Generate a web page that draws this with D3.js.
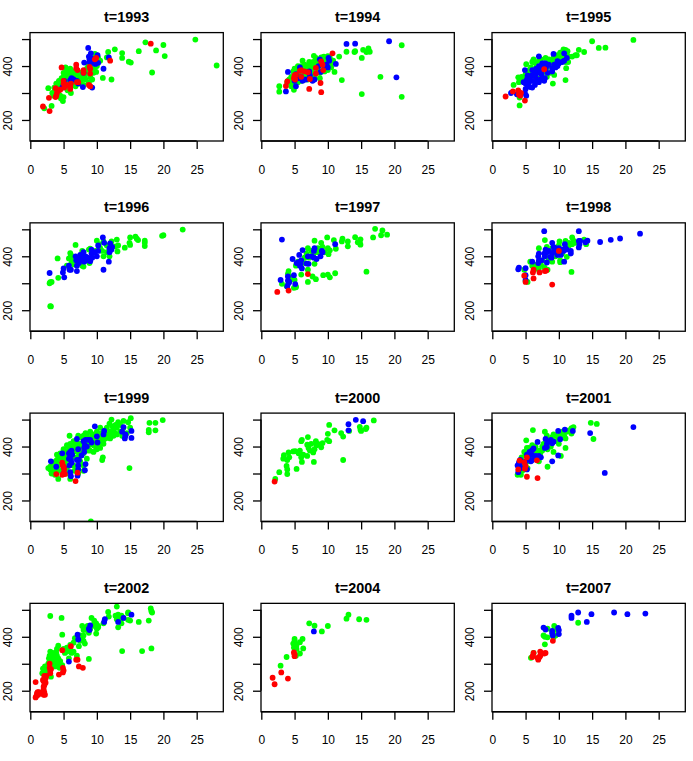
<!DOCTYPE html>
<html><head><meta charset="utf-8">
<style>html,body{margin:0;padding:0;background:#fff}svg{display:block}text{font-family:"Liberation Sans",Arial,sans-serif;fill:#000}</style>
<script src="https://cdn.jsdelivr.net/npm/d3@7"></script></head><body><div id="chart"></div>
<script>
const years=["1993","1994","1995","1996","1997","1998","1999","2000","2001","2002","2004","2007"];
const xTicks=[0,5,10,15,20,25];
const yTicks=[200,300,400,500];
const yLabels=[200,400];
const seriesColors={green:"#00ff00",blue:"#0000ff",red:"#ff0000"};

const green1993=[[4.5,335],[4.7,355],[5.2,355],[5.7,340],[5.7,375],[6.3,350],[6.6,375],[7.3,362],[7.7,350],[8.3,350],[8.5,375],[9.2,395],[9.7,395],[8.7,405],[3.3,300],[3.6,320],[4.3,345],[5.5,320],[6.8,325],[4.5,290],[24.8,498],[28,402],[17.3,488],[20,478],[18.9,458],[20.2,437],[18.3,376],[16.3,455],[15.1,413],[14.8,416],[13.8,448],[13.8,430],[12.7,462],[11.7,452],[12.2,350],[10.9,356],[11.5,432],[10.5,420],[9.7,445],[2.7,318],[3.2,252],[2.1,243],[3.5,290],[4,330],[4.4,325],[4.9,270],[5,285],[4.6,280],[5.3,395],[5,375],[5.5,385],[5,360],[5.5,350],[6,380],[6.2,370],[6,390],[6.5,360],[7,370],[7,345],[7.5,375],[7.5,335],[8,380],[8,330],[6.5,340],[6,325],[6.3,330],[8.5,390],[9,380],[9.5,375],[10,400],[9.9,378],[9.3,350],[8.8,340],[9,360],[8.2,365],[5.2,340],[5.5,330],[4.8,320],[4.2,300],[3.7,310],[3.9,335],[5.6,310],[6.1,300],[5.8,365],[7.2,355],[4.8,345],[5.3,370],[6.8,382],[7.8,360],[9.6,415],[10.2,430],[9.8,442]];
const blue1993=[[8.7,467],[9.1,447],[10.1,440],[8.8,435],[9.2,428],[8.1,413],[9.3,415],[9.8,408],[10.2,412],[8.9,425],[11,390],[11.8,432],[8,375],[6.2,355],[6,348],[7,345],[5,330],[7.2,335],[7.9,322],[9.3,320],[4.8,320],[5.1,345],[6.5,350],[8.9,415],[9.6,410]];
const red1993=[[1.9,250],[2.9,233],[2.8,282],[3.8,318],[3.8,285],[4,300],[4.2,310],[3.9,290],[4.5,312],[4.7,395],[5,345],[5.1,320],[5,335],[6,322],[6.1,335],[6,315],[7,340],[7.2,340],[6.9,405],[6.9,392],[7.1,385],[8,385],[8,375],[8.9,397],[9,390],[9,372],[8.8,330],[9,325],[9.9,430],[9.7,425],[12,420],[18.1,483],[5.5,330]];

const green1994=[[5.2,385],[6.2,385],[6.5,405],[6.7,370],[7.3,395],[7.8,375],[8.3,410],[8.7,420],[9.2,420],[9.7,420],[5.5,340],[6.3,360],[4.2,350],[7.2,415],[8.8,375],[10.4,410],[4.7,340],[2.7,325],[2.7,305],[4,345],[4.5,325],[4.9,312],[5,390],[5.5,380],[6.2,420],[6,400],[6.8,395],[7.2,405],[7.9,438],[7.8,415],[8.2,420],[9,432],[9.4,435],[10,437],[10.3,430],[10.8,420],[11.7,435],[11,378],[12.1,348],[12.8,453],[14.1,455],[14,452],[15.3,460],[15.8,452],[16.1,465],[16.3,453],[15.1,430],[17.9,360],[15.1,296],[21.1,477],[21.1,286],[5.5,360],[6,370],[6.5,350],[7,375],[7.5,385],[8,400],[8.5,390],[9,405],[9.5,395],[10,410],[5,350],[4.5,360],[6,345],[7,350],[8,360],[8.8,355],[9,380],[9.5,380],[10.5,395],[10,385],[8.2,430],[7,385],[5.5,400],[4.8,380],[7.5,360],[3.9,340]];
const blue1994=[[19.2,492],[14.1,483],[12.8,482],[20.3,358],[3.7,306],[4,378],[5.2,325],[5,345],[5.2,370],[5.8,395],[6.2,345],[6.7,350],[7.2,380],[7.7,345],[8,350],[7.3,365],[8.8,425],[8.6,400],[9.5,400],[10.1,430],[10.2,420],[10,395],[11.2,408],[9.8,405],[6,360],[5.7,355],[8.9,378]];
const red1994=[[10.7,447],[9,417],[9.2,405],[9.3,385],[8.2,393],[8.2,372],[8.9,337],[9,303],[7.2,315],[7.3,352],[7,377],[6.5,380],[6,385],[5.8,382],[6,360],[5,365],[5.1,350],[4.9,355],[3.9,343],[3.7,326],[5.2,368]];

const green1995=[[6.5,390],[7.3,425],[5.5,385],[8.7,410],[9.2,430],[9.9,425],[10.3,440],[8.2,395],[7.5,375],[8.7,375],[4.8,345],[4.2,345],[10.7,435],[11.2,442],[21.2,497],[15,492],[16,467],[17,468],[13.8,452],[13,460],[12.7,440],[12,435],[11.5,435],[11,460],[11.3,455],[10.7,462],[10.2,450],[9.8,440],[10,430],[11.1,392],[11,348],[9.1,335],[9.3,367],[4.1,254],[4.1,283],[3.2,330],[3.9,358],[4,340],[4.4,360],[5.1,407],[5,370],[6.2,425],[6,415],[6.5,410],[7,395],[8,430],[8.5,425],[9,415],[9.5,405],[8.2,360],[7.5,350],[6.8,355],[6.3,345],[5.5,370],[5,350],[11,415],[10.5,425],[11.4,415],[12.5,440],[4.5,355],[7,420],[7.5,410],[5.8,395],[10,410]];
const blue1995=[[5.3,330],[5.6,355],[5.5,340],[6.3,375],[6.7,345],[6.4,330],[7.4,370],[7.6,395],[8.2,400],[4.7,340],[5.3,365],[9,380],[9.8,400],[10.5,415],[6.6,390],[7,436],[9.2,445],[10.8,447],[11.2,430],[10.8,420],[10,410],[9.8,418],[9.5,395],[9,390],[8.5,405],[8,410],[7.5,410],[7,400],[7.2,385],[8,390],[8.3,375],[7.9,355],[7.8,345],[7.2,350],[7,340],[6.8,375],[6,385],[5.9,365],[6,345],[6,320],[5.7,322],[5,335],[5.2,350],[4.9,385],[5,315],[5.1,290],[4.9,300],[3.7,295],[4,300],[2.8,300],[6.5,360],[7.8,410],[9.3,405]];
const red1995=[[2,287],[3.1,306],[3.9,310],[4,295],[4.2,290],[4.3,300],[4.9,272],[7.8,388]];

const green1996=[[22.9,499],[20,478],[19.8,476],[17.2,458],[17.2,450],[17.2,438],[16.2,460],[16,465],[15.8,473],[15,470],[14.9,450],[15,442],[14.2,432],[13,462],[13.2,440],[12.8,437],[13.1,418],[12.2,455],[11,455],[10,458],[11,400],[11.9,400],[11.5,415],[10.8,420],[10.5,430],[3,304],[3.2,305],[2.9,300],[3,215],[3.1,214],[4.1,392],[4.2,320],[6.8,442],[6,412],[6.1,405],[5.8,392],[6.2,378],[7,385],[7.8,420],[7.8,365],[8,362],[8.8,425],[9,428],[9.3,410],[8.9,375],[9.8,420],[8.5,395],[10.3,445],[11.5,440],[5.5,365],[6.5,370],[7.5,395],[6.5,395]];
const blue1996=[[7.6,385],[8.3,400],[8.6,395],[9.7,415],[11.9,430],[10.9,470],[11.1,450],[12,448],[12.3,435],[12.2,425],[11.9,415],[11.8,380],[11,350],[2.9,338],[5,355],[4.9,340],[5.1,322],[5.9,350],[5.8,365],[6.1,350],[7,345],[7,365],[6.9,385],[6.8,400],[7.5,405],[7.2,390],[8,415],[7.9,400],[8.1,380],[8.5,385],[9,382],[9.2,425],[9.2,410],[9.3,395],[10,400],[10.2,420],[10.2,440],[7.3,375],[8.9,392]];
const red1996=[];

const green1997=[[17.1,502],[18.2,496],[18.9,480],[18,478],[16.8,470],[14.1,471],[14.9,463],[14.8,452],[14.9,443],[14.5,452],[13,455],[13,437],[12.2,465],[12.1,455],[10.9,460],[9.9,470],[8,458],[11.2,428],[10.3,422],[10,430],[10.1,408],[15.8,343],[11.1,337],[10,332],[10.3,322],[9.3,330],[8.2,315],[7.7,325],[7,305],[6,332],[7,350],[8,372],[9,450],[8.5,430],[9.2,435],[9,420],[8.5,415],[7.5,420],[7,430],[6.8,410],[7.2,395],[6.5,375],[5.2,365],[5.2,288],[5.2,285],[5,312],[4.9,283],[4.1,345],[4,335],[4.2,325],[4.5,315],[3.8,290],[3.1,298],[6.5,395],[7.8,408],[5.5,380],[9.5,415]];
const blue1997=[[3.1,462],[11.1,445],[6.2,423],[4.7,390],[5.7,405],[5.3,375],[5.8,365],[5.9,372],[6,385],[6.1,355],[6.8,373],[7.1,372],[7,400],[7.6,400],[7.9,395],[8,430],[7.9,420],[8.3,390],[8.9,400],[9.1,420],[9.2,415],[2.9,312],[4,325],[4.9,330],[4,310],[4.1,300],[4.2,305],[5.1,297],[3.9,288],[5.6,378]];
const red1997=[[2.4,268],[4.1,273],[7,334]];

const green1998=[[6.3,350],[7.5,385],[9,430],[10,440],[12.5,450],[11,440],[6,365],[7.3,370],[8,400],[7.9,460],[10.1,455],[11,457],[12,470],[12.2,458],[12,445],[11.5,450],[13.8,462],[14.1,445],[8.2,435],[7,430],[11.9,342],[11.2,398],[10.2,385],[10.2,378],[5.7,380],[6.2,370],[7,355],[7.8,360],[8,352],[8.3,350],[6.5,360],[4.8,350],[5,308],[5.3,305],[8.5,390],[9,380],[10.5,410],[11.5,440],[9.5,400]];
const blue1998=[[9.3,420],[10.3,405],[10.7,420],[8,425],[22.2,484],[19.2,466],[17.8,461],[16.2,453],[14.3,458],[14,452],[13.2,457],[13,457],[13.1,445],[13,433],[13,493],[7.8,493],[11.8,420],[11.8,410],[10.8,380],[10.9,445],[11,430],[10,430],[10.2,415],[9.8,405],[9,450],[9.2,435],[9,410],[8.7,398],[8.5,420],[8.2,415],[7.8,410],[7.9,400],[7,410],[6.9,400],[7,385],[6.9,375],[7.4,385],[8.2,377],[6,380],[4,358],[3.9,352],[5,356],[5,330],[5,312],[8.9,395],[10.5,425],[9.5,430],[11.2,425]];
const red1998=[[10,420],[4.8,328],[5,305],[9,295],[6.2,318],[6.1,340],[6.2,350],[7.1,340],[7.9,345],[8.1,347]];

const green1999=[[3,325],[3.4,310],[3.9,300],[4.4,335],[4.3,360],[4.8,375],[5.2,370],[5.5,405],[5.2,335],[5.6,300],[6.3,360],[6.6,310],[6.9,385],[7.3,375],[7.7,390],[7.8,405],[8.3,415],[8.8,405],[8.7,385],[9.3,440],[9.8,430],[10.2,440],[10.7,450],[11.3,430],[11.8,440],[12.3,475],[12.7,450],[13.2,490],[13.8,440],[8.3,450],[7,415],[7.2,440],[6.3,395],[5,360],[4.2,330],[3.8,345],[9.5,405],[10.5,410],[7.3,355],[14.7,490],[19.9,498],[18.8,488],[17.9,488],[18.8,460],[17.8,462],[17.8,453],[15.1,505],[15,470],[14,470],[14,495],[13,470],[12.2,500],[11.9,485],[12.8,480],[12,455],[11.5,470],[13.5,455],[12.5,440],[11.2,460],[11,445],[10.5,470],[11,425],[10,435],[9.5,445],[9,455],[8.5,445],[8,440],[7.5,435],[10,390],[9.5,380],[10.5,395],[10.8,350],[10.9,360],[14.9,320],[9.1,122],[5.9,440],[6,410],[6.5,420],[7,400],[5,390],[5.5,380],[4.5,375],[4,370],[4,350],[3.5,330],[2.7,320],[3,315],[3.2,300],[4,310],[4.2,280],[6,280],[7.2,300],[5.1,300],[3.7,295],[5,340],[5.5,350],[8,375],[8.5,355],[9,385],[8.2,395],[9,410],[9.5,425],[10,415],[10.5,430],[11.5,445],[12.5,460],[13,445],[6.5,380],[7,360],[7.5,345],[7,325],[6.5,330],[8,330],[8,310],[5,320],[4.5,310],[3.5,340],[6,350],[5.5,320],[7.5,410],[8,420],[8.5,430],[9,430],[6.5,400],[5.8,395],[4.7,355],[9.8,400],[12,430],[11,410],[10,455],[13.5,480],[14.5,450]];
const blue1999=[[5.8,355],[6.3,370],[6.2,385],[5.9,330],[8.5,400],[8.3,425],[7.3,350],[9.7,475],[11.1,458],[11,445],[10,438],[10.1,415],[9,425],[9.2,415],[8.7,425],[8,420],[8.2,405],[8.1,395],[8.1,380],[7,428],[7.2,390],[7.7,367],[6,380],[6,365],[6.1,350],[6.2,340],[5.8,375],[7,350],[7.2,330],[7.2,315],[7.1,292],[8.3,335],[8.2,312],[6,305],[6.1,290],[5.1,320],[5,300],[4.8,375],[3.9,325],[3.1,345],[14,472],[13.8,455],[14.3,445],[14.2,430],[15.2,432],[15.2,458],[14.3,440]];
const red1999=[[4.8,340],[4.9,330],[5,325],[5.1,315],[5,300],[4.8,295],[5.2,298],[3.9,298],[6.8,272],[7.1,303]];

const green2000=[[16.9,497],[15.8,470],[15.7,465],[14.8,473],[14.9,462],[15,458],[13.2,458],[12.3,437],[12,450],[11,460],[10.2,480],[10,447],[9.9,425],[10.2,420],[12.3,350],[9.2,413],[9,397],[8.2,420],[8.3,405],[8,390],[7.8,378],[7.5,410],[7.1,395],[7.3,385],[7,435],[6.9,407],[6.9,365],[6.1,425],[6,420],[6.3,370],[6,360],[6.1,343],[5.8,385],[5.6,375],[5.1,383],[4.8,382],[4.1,378],[4.2,360],[3.9,350],[3.3,355],[3.4,368],[3.8,328],[3.9,315],[3.9,298],[5.3,317],[2.7,305],[2.1,280],[7.9,343],[8.5,410]];
const blue2000=[[14.2,499],[15.3,494],[13.1,483],[13.1,460]];
const red2000=[[2,270]];

const green2001=[[4.4,360],[5.5,365],[6.4,375],[7.7,410],[8.5,425],[9.5,440],[10.8,440],[11.5,460],[5.7,375],[4.5,325],[5.3,320],[7.5,385],[14.8,488],[15.7,484],[15.2,428],[12.2,472],[11.9,468],[11.2,455],[11,430],[11.9,448],[11,395],[10.2,445],[10,430],[10,410],[10.3,365],[9.2,445],[9,435],[9.2,380],[8.2,440],[7.9,455],[6.1,461],[5.1,423],[8.3,325],[8.3,390],[8.8,400],[7.5,400],[7,385],[7.2,375],[6.5,400],[6,405],[5.5,395],[5.2,395],[4.8,380],[5,370],[5.5,345],[5,340],[4.5,345],[4.2,320],[4.3,295],[3.8,295],[4.5,310],[6,355],[6.5,380],[7,345],[6.8,362],[10.5,455],[9.5,420]];
const blue2001=[[5.6,380],[5.4,355],[4.1,330],[4.3,320],[6.5,365],[8.5,418],[9,412],[21.2,472],[16.9,302],[14.7,450],[12.1,458],[10.9,463],[9.9,458],[10.2,427],[8,428],[8.2,410],[7.9,395],[8.2,398],[8.8,425],[9.2,418],[6.8,417],[7,365],[7.3,360],[6.2,393],[6,387],[5.9,370],[6,350],[5.2,370],[5,345],[5.2,315],[4.2,350],[4,340],[3.8,330],[3.9,305],[9,345],[9.9,367],[5.8,345]];
const red2001=[[4.1,348],[4.8,342],[5,328],[4.9,318],[5.2,360],[3.9,315],[5.2,288],[6.8,283],[6.7,349]];

const green2002=[[2.7,300],[2.9,310],[3.1,320],[3.3,315],[3.5,330],[3.6,340],[3.8,305],[4,315],[4.2,320],[3.4,290],[3.2,325],[3,295],[2.5,285],[2.2,290],[4.4,285],[3.9,340],[5.2,340],[6,350],[6.7,395],[7.5,385],[7.8,395],[9.3,440],[9.6,460],[8.6,440],[13.4,470],[13,465],[13.5,460],[14.7,490],[18.1,505],[18.2,495],[18.3,490],[17.8,460],[16.3,455],[14.7,487],[15,460],[14.7,463],[13.7,478],[13,512],[12.8,478],[13.2,482],[14,470],[13.2,435],[13.7,450],[11.7,492],[11.8,475],[11,450],[9.2,470],[9.9,450],[10.2,440],[10.2,435],[9.9,412],[9,430],[8.5,425],[7.8,440],[8.2,430],[8.8,415],[8,405],[7.5,405],[8,385],[8.2,375],[7.3,365],[7,395],[6.5,378],[6,370],[5.5,360],[5,355],[4.2,367],[4,355],[4.8,408],[4.7,470],[3,477],[18.2,357],[16.8,347],[13.8,347],[8.8,318],[7,330],[6.2,340],[5.8,320],[5.5,345],[4.8,295],[4.5,310],[4,330],[3.7,320],[3.2,340],[3,345],[2.8,320],[3,305],[3.3,300],[3.1,252],[2.7,285],[1.9,282],[2.2,275],[1.8,265],[2.5,270],[3.5,310],[3.8,290],[2.9,330],[4.2,300],[9.5,445],[8,425],[10,430],[6.5,345]];
const blue2002=[[15.2,482],[14,470],[13.2,455],[11.2,465],[11.1,455],[9,442],[8.9,425],[8.8,430],[7.1,408],[7.2,390],[5.8,308]];
const red2002=[[1.3,195],[2.3,245],[2.4,255],[3.1,280],[2,215],[0.8,232],[1,190],[0.9,180],[1.1,195],[1.2,185],[0.8,175],[1.9,190],[2,185],[2.1,195],[2.2,185],[2,205],[2.1,220],[2,235],[1.9,240],[2.2,250],[2.1,255],[2.9,300],[2.9,285],[3,275],[3,265],[4.3,260],[4.9,285],[4.9,268],[5,275],[4.8,350],[6.1,365],[6.9,315],[7.1,315],[7.3,290],[7.9,285],[2.3,230]];

const green2004=[[13.1,482],[12.8,467],[14.7,465],[15.8,463],[10,440],[9.1,420],[8,441],[7.2,450],[6.2,392],[5,392],[5.8,380],[5.3,370],[5.3,355],[4.8,375],[5,385],[6.3,357],[5.8,338],[5.2,330],[3.8,325],[2.9,293],[4.9,360]];
const blue2004=[[7.9,420]];
const red2004=[[1.7,248],[2,224],[3,268],[4,245],[4.9,342],[5,328],[5,335]];

const green2007=[[12.9,452],[9.3,440],[8.3,430],[9,420],[7.7,405],[7.9,400],[8.3,398],[9.2,398],[9.5,405],[7.9,372],[5.8,322],[6.2,340],[9.7,425]];
const blue2007=[[23,486],[20.3,484],[18.3,490],[14.9,484],[12.9,490],[11.9,478],[11.9,470],[14.2,455],[7.7,434],[8,427],[9,422],[9,412],[9.1,405],[9.9,433],[10,425],[10,410]];
const red2007=[[9.1,385],[6.2,340],[6.1,330],[6,325],[6.9,315],[6.8,322],[7.1,325],[7.2,345],[7.4,338],[8,340],[7.8,338],[7.2,330]];

const panelData=[
 [green1993,blue1993,red1993],[green1994,blue1994,red1994],[green1995,blue1995,red1995],
 [green1996,blue1996,red1996],[green1997,blue1997,red1997],[green1998,blue1998,red1998],
 [green1999,blue1999,red1999],[green2000,blue2000,red2000],[green2001,blue2001,red2001],
 [green2002,blue2002,red2002],[green2004,blue2004,red2004],[green2007,blue2007,red2007]];
const order=["green","blue","red"];

const W=693,H=761,cellW=231,cellH=190.25;
const left=30,right=223.3,top0=32.6,bottom0=141;
const x=d3.scaleLinear().domain([0,29]).range([left+0.3,right]);
const y=d3.scaleLinear().domain([122,524]).range([bottom0,top0]);
const svg=d3.select("#chart").append("svg").attr("width",W).attr("height",H);
svg.append("defs").append("clipPath").attr("id","clip").append("rect")
  .attr("x",left).attr("y",top0).attr("width",right-left).attr("height",bottom0-top0);

years.forEach((yr,i)=>{
  const g=svg.append("g").attr("transform",`translate(${(i%3)*cellW},${Math.floor(i/3)*cellH})`);
  const pts=g.append("g").attr("clip-path","url(#clip)");
  panelData[i].forEach((arr,k)=>{
    pts.append("g").selectAll("circle").data(arr).join("circle")
      .attr("cx",d=>x(d[0])).attr("cy",d=>y(d[1])).attr("r",2.9).attr("fill",seriesColors[order[k]]);
  });
  g.append("rect").attr("x",left).attr("y",top0).attr("width",right-left).attr("height",bottom0-top0)
    .attr("fill","none").attr("stroke","#000").attr("stroke-width",1.3);
  const ax=g.append("g").attr("transform",`translate(0,${bottom0})`)
    .call(d3.axisBottom(x).tickValues(xTicks).tickSize(8).tickPadding(16).tickFormat(d3.format("d")));
  const ay=g.append("g").attr("transform",`translate(${left},0)`)
    .call(d3.axisLeft(y).tickValues(yTicks).tickSize(8).tickFormat(d=>yLabels.includes(d)?d:""));
  [ax,ay].forEach(a=>{
    a.selectAll("path").attr("stroke","#000").attr("stroke-width",1.3);
    a.selectAll("line").attr("stroke","#000").attr("stroke-width",1.3);
    a.selectAll("text").attr("fill","#000").style("font-family",'"Liberation Sans",Arial,sans-serif').style("font-size","12px");
  });
  ax.select("path").attr("d",`M${x(0)},0H${x(25)}`);
  ay.select("path").attr("d",`M0,${y(200)}V${y(500)}`);
  ay.selectAll("text").attr("x",null).attr("dy",null)
    .attr("text-anchor","middle")
    .attr("transform",`translate(-18,0) rotate(-90)`);
  g.append("text").attr("x",(left+right)/2).attr("y",22).attr("text-anchor","middle")
    .style("font-size","14.4px").style("font-weight","bold").text("t="+yr);
});
</script></body></html>
